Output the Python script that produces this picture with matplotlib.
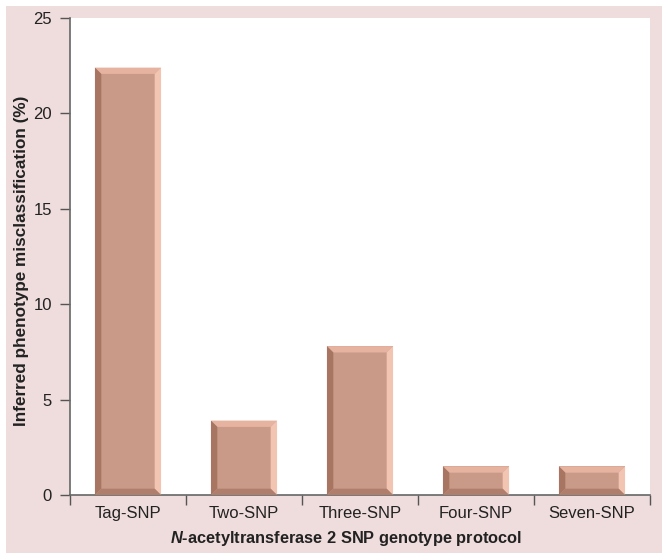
import numpy as np
import matplotlib.pyplot as plt
from matplotlib.patches import Rectangle, Polygon
from matplotlib import ticker

plt.rcParams['font.family'] = ['Liberation Sans', 'DejaVu Sans']
plt.rcParams['mathtext.fontset'] = 'custom'
plt.rcParams['mathtext.bfit'] = 'Liberation Sans:bold:italic'

protocols = ['Tag-SNP', 'Two-SNP', 'Three-SNP', 'Four-SNP', 'Seven-SNP']
misclass = [22.4, 3.9, 7.8, 1.5, 1.5]

face = '#c99a88'
c_top = '#e6b3a0'
c_right = '#f2c4b2'
c_left = '#a87562'
c_bot = '#b07e6c'

fig = plt.figure(figsize=(6.68, 5.6), dpi=100)
fig.patch.set_facecolor('white')
fig.patches.append(Rectangle((6 / 668, 7 / 560), 656 / 668, 547 / 560,
                             transform=fig.transFigure, facecolor='#efdcdc',
                             edgecolor='none', zorder=-5))

ax = fig.add_axes([70 / 668, 65 / 560, 580 / 668, 477 / 560])
ax.set_facecolor('white')

x = np.arange(len(protocols))
w = 0.57
bx = 0.055   # bevel width (x data units)
by = 0.33    # bevel height (y data units)
for xi, v in zip(x, misclass):
    x0, x1 = xi - w / 2, xi + w / 2
    ax.add_patch(Rectangle((x0, 0), w, v, facecolor=face, edgecolor='none', zorder=2))
    # bevel edges
    ax.add_patch(Polygon([(x0, v), (x1, v), (x1 - bx, v - by), (x0 + bx, v - by)],
                         closed=True, facecolor=c_top, edgecolor='none', zorder=3))
    ax.add_patch(Polygon([(x1, v), (x1, 0), (x1 - bx, by), (x1 - bx, v - by)],
                         closed=True, facecolor=c_right, edgecolor='none', zorder=3))
    ax.add_patch(Polygon([(x0, v), (x0, 0), (x0 + bx, by), (x0 + bx, v - by)],
                         closed=True, facecolor=c_left, edgecolor='none', zorder=3))
    ax.add_patch(Polygon([(x0, 0), (x1, 0), (x1 - bx, by), (x0 + bx, by)],
                         closed=True, facecolor=c_bot, edgecolor='none', zorder=3))

ax.set_xlim(-0.5, len(protocols) - 0.5)
ax.set_ylim(0, 25)
ax.yaxis.set_major_locator(ticker.MultipleLocator(5))
ax.set_xticks(np.arange(len(protocols) + 1) - 0.5)
ax.set_xticklabels([])
ax.set_xticks(x, minor=True)
ax.set_xticklabels(protocols, minor=True, fontsize=12, color='#222222')
ax.tick_params(axis='x', which='minor', length=0, pad=8)
ax.tick_params(axis='x', which='major', length=7, width=1, color='#555555')
ax.tick_params(axis='y', length=7, width=1, color='#555555', labelsize=12,
               labelcolor='#222222', pad=6)

for s in ['top', 'right']:
    ax.spines[s].set_visible(False)
for s in ['left', 'bottom']:
    ax.spines[s].set_color('#666666')
    ax.spines[s].set_linewidth(1.2)

ax.set_ylabel('Inferred phenotype misclassification (%)', fontsize=12.3,
              fontweight='bold', color='#222222')
ax.yaxis.set_label_coords(-0.071, 0.49)
ax.set_xlabel(r'$\mathbfit{N}$-acetyltransferase 2 SNP genotype protocol', fontsize=11.8,
              fontweight='bold', color='#222222')
ax.xaxis.set_label_coords(0.476, -0.071)

fig.savefig('out.png', dpi=100)
